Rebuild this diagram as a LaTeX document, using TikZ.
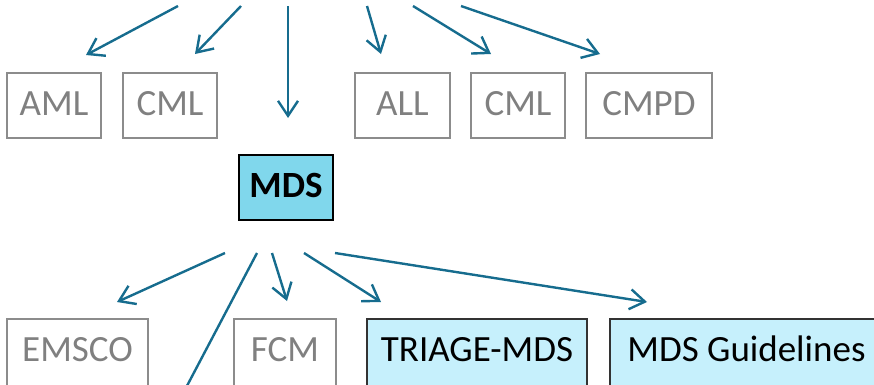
\documentclass[tikz,border=0pt]{standalone}
\usepackage{fontspec}
\setmainfont{Carlito}
\usetikzlibrary{arrows.meta}
\definecolor{linkcol}{RGB}{22,108,142}
\definecolor{greyline}{RGB}{140,140,140}
\definecolor{greytext}{RGB}{128,128,128}
\definecolor{hubfill}{RGB}{128,215,236}
\definecolor{pickfill}{RGB}{198,240,252}
\tikzset{>={Straight Barb[length=15pt,width=20pt]}}
\tikzset{box/.style={anchor=north west,inner xsep=0pt,inner ysep=0pt,line width=2pt,
    text height=42pt,text depth=23pt,font=\fontsize{37}{44}\selectfont}}
\tikzset{grey/.style={box,draw=greyline,text=greytext}}
\tikzset{pick/.style={box,draw=black!80,fill=pickfill,text=black}}
\tikzset{hub/.style={box,draw=black,fill=hubfill,text=black,font=\fontsize{37}{44}\selectfont\bfseries}}
\tikzset{cut/.style={text depth=40pt}}
\tikzset{link/.style={->,draw=linkcol,line width=2.4pt}}

\begin{document}
\begin{tikzpicture}[x=1pt,y=-1pt]
                    \clip (0,0) rectangle (874,384);

                    % upper row
                    \node[grey,minimum width=94pt] (AML) at (6,72) {AML};
                    \node[grey,minimum width=94pt] (CMLa) at (122,72) {CML};
                    \node[grey,minimum width=95pt] (ALL) at (354,72) {ALL};
                    \node[grey,minimum width=94pt] (CMLb) at (470,72) {CML};
                    \node[grey,minimum width=126pt] (CMPD) at (585,72) {CMPD};

                    \node[hub,minimum width=94pt] (MDS) at (238,154) {MDS};

                    % lower row
                    \node[grey,cut,minimum width=141pt] (EMSCO) at (6,318) {EMSCO};
                    \node[grey,cut,minimum width=102pt] (FCM) at (233,318) {FCM};
                    \node[pick,cut,minimum width=220pt] (TRIAGE) at (366,318) {TRIAGE-MDS};
                    \node[pick,cut,minimum width=273pt] (GUIDE) at (609,318) {MDS Guidelines};

                    % arrow ends
                    \coordinate (s1) at (178,6);   \coordinate (t1) at (86,55);
                    \coordinate (s2) at (241,6);   \coordinate (t2) at (195,54);
                    \coordinate (s3) at (288,6);   \coordinate (t3) at (288,118);
                    \coordinate (s4) at (367,6);   \coordinate (t4) at (381,54);
                    \coordinate (s5) at (413,6);   \coordinate (t5) at (491,54);
                    \coordinate (s6) at (461,6);   \coordinate (t6) at (600,54);

                    \coordinate (m1) at (225,253); \coordinate (u1) at (117,302);
                    \coordinate (m2) at (257,253); \coordinate (u2) at (169,420);
                    \coordinate (m3) at (272,253); \coordinate (u3) at (287,301);
                    \coordinate (m4) at (304,253); \coordinate (u4) at (381,302);
                    \coordinate (m5) at (335,253); \coordinate (u5) at (647,302);

                    \foreach \i in {1,...,6}
                        \draw[link] (s\i) -- (t\i);
                    \foreach \i in {1,3,4,5}
                        \draw[link] (m\i) -- (u\i);
                    \draw[linkcol, line width=2.4pt] (m2) -- (u2);
                \end{tikzpicture}
\end{document}
